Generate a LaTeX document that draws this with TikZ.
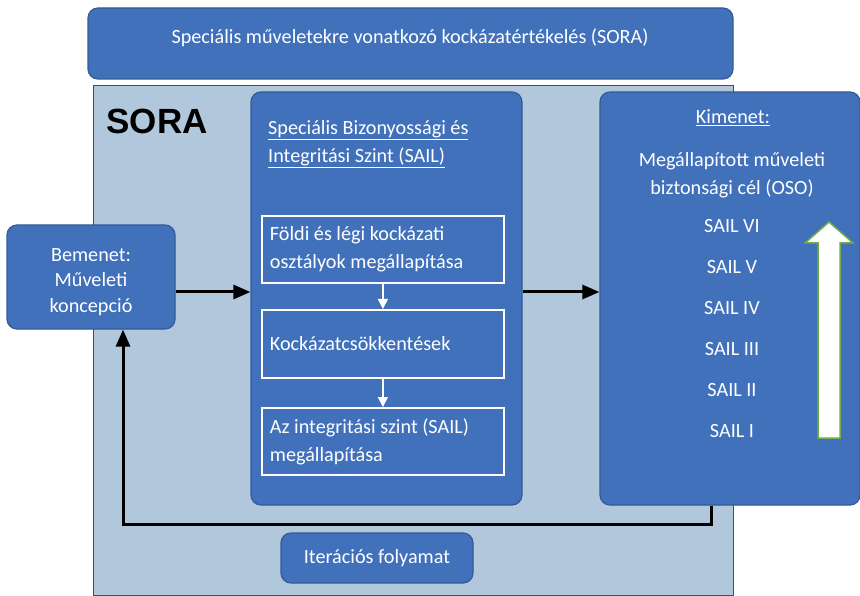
\documentclass[tikz,border=0pt]{standalone}
\usepackage{fontspec}
\setmainfont{Carlito}
\newfontfamily\arialbd{Liberation Sans}
\usetikzlibrary{arrows.meta}
\definecolor{boxblue}{RGB}{65,113,187}
\definecolor{boxedge}{RGB}{52,90,150}
\definecolor{soragray}{RGB}{177,200,220}
\definecolor{arrgreen}{RGB}{112,173,71}

\begin{document}
\begin{tikzpicture}[x=1pt, y=-1pt,
    every node/.style={font=\fontsize{20.2}{28}\selectfont, text=white, inner sep=0pt},
    bluebox/.style={draw=boxedge, line width=1.2pt, fill=boxblue, rounded corners=10pt},
    stagebox/.style={draw=white, line width=1.8pt, anchor=north west, inner xsep=8pt, text width=226pt, align=flush left},
    flow/.style={-{Triangle[length=17pt,width=14pt]}, line width=3pt, black},
    substep/.style={-{Triangle[length=10pt,width=10pt]}, line width=1.4pt, white}]
    \useasboundingbox (0,0) rectangle (860,596);
    \node[draw=gray!60!black, line width=1pt, fill=soragray, minimum width=640pt, minimum height=509pt] (sora) at (413,340.5) {};
    \node[text=black, font=\arialbd\bfseries\fontsize{35}{35}\selectfont] (soralabel) at (157,121) {SORA};
    \node[bluebox, minimum width=645pt, minimum height=71pt] (top) at (410.5,43.5) {};
    \node (toptext) at (410,38) {Speciális műveletekre vonatkozó kockázatértékelés (SORA)};
    \node[bluebox, minimum width=271pt, minimum height=413pt] (sail) at (386.5,298.5) {};
    \node[bluebox, minimum width=260pt, minimum height=413pt] (out) at (730,298.5) {};
    \node[bluebox, minimum width=168pt, minimum height=104pt] (in) at (91,277) {};
    \node[align=center, font=\fontsize{20.2}{25.5}\selectfont] (intext) at (91,282) {Bemenet:\\Műveleti\\koncepció};
    \node[bluebox, minimum width=192pt, minimum height=50pt] (iter) at (377,558) {Iterációs folyamat};
    \node[anchor=west, align=left] (sailtitle) at (268,144) {\underline{Speciális Bizonyossági és}\\\underline{Integritási Szint (SAIL)}};
    \node[stagebox, minimum height=67pt] (ground) at (261,215) {Földi és légi kockázati\\osztályok megállapítása};
    \node[stagebox, minimum height=68pt] (reduce) at (261,309) {Kockázatcsökkentések};
    \node[stagebox, minimum height=67pt] (level) at (261,407) {Az integritási szint (SAIL)\\megállapítása};
    \node (kimenet) at (733,118) {\underline{Kimenet:}};
    \node[align=center] (oso) at (732,175) {Megállapított műveleti\\biztonsági cél (OSO)};
    \foreach \lvl/\y in {VI/226, V/267, IV/308, III/349, II/390, I/431}
        \node (sail\lvl) at (732,\y) {SAIL \lvl};
    \draw[arrgreen, line width=1.5pt, fill=white] (818,438) -- (818,243) -- (805,243) -- (829,222) -- (853,243) -- (840,243) -- (840,438) -- cycle;
    \draw[substep] (ground) -- (reduce);
    \draw[substep] (reduce) -- (level);
    \draw[flow] ([yshift=-15pt]in.east) -- ([yshift=-15pt]in.east -| sail.west);
    \draw[flow] ([yshift=6.5pt]sail.east) -- ([yshift=6.5pt]sail.east -| out.west);
    \draw[flow] ([xshift=-19pt]out.south) -- ++(0,19) -| ([xshift=32pt]in.south);
\end{tikzpicture}
\end{document}
